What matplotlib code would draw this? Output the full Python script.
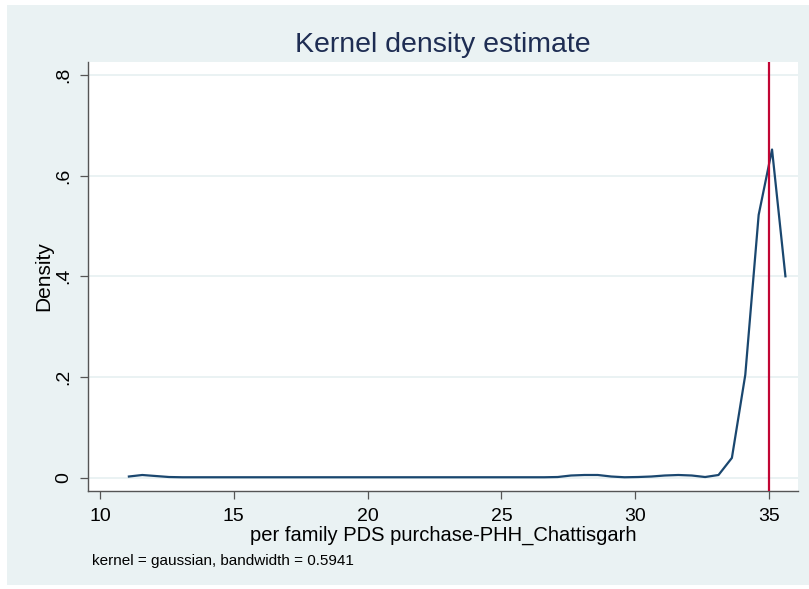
import matplotlib
matplotlib.use("Agg")
import matplotlib.pyplot as plt
from matplotlib.patches import Rectangle

plt.rcParams['font.family'] = ['Liberation Sans', 'DejaVu Sans']

# kernel density estimate (50 evaluation points)
grid_x = [11.08, 11.58, 12.08, 12.58, 13.08, 13.58, 14.08, 14.58, 15.08, 15.59,
          16.09, 16.59, 17.09, 17.59, 18.09, 18.59, 19.09, 19.59, 20.09, 20.59,
          21.09, 21.59, 22.09, 22.59, 23.09, 23.60, 24.10, 24.60, 25.10, 25.60,
          26.10, 26.60, 27.10, 27.60, 28.10, 28.60, 29.10, 29.60, 30.10, 30.60,
          31.10, 31.61, 32.11, 32.61, 33.11, 33.61, 34.11, 34.61, 35.11, 35.61]
density = [0.002, 0.005, 0.003, 0.001, 0.0005, 0.0005, 0.0005, 0.0005, 0.0005, 0.0005,
           0.0005, 0.0005, 0.0005, 0.0005, 0.0005, 0.0005, 0.0005, 0.0005, 0.0005, 0.0005,
           0.0005, 0.0005, 0.0005, 0.0005, 0.0005, 0.0005, 0.0005, 0.0005, 0.0005, 0.0005,
           0.0005, 0.0005, 0.001, 0.004, 0.005, 0.005, 0.002, 0.0005, 0.001, 0.002,
           0.004, 0.005, 0.004, 0.001, 0.005, 0.039, 0.204, 0.522, 0.652, 0.400]
ref_line = 35

x_ticks = [10, 15, 20, 25, 30, 35]
y_ticks = [0, 0.2, 0.4, 0.6, 0.8]
y_tick_labels = ["0", ".2", ".4", ".6", ".8"]

bg = "#EAF2F3"
navy = "#1A476F"
red = "#C10534"

fig = plt.figure(figsize=(8.09, 5.89), dpi=100)
fig.patch.set_facecolor("white")
fig.patches.append(Rectangle((7 / 809, 4 / 589), 1, 580 / 589,
                             transform=fig.transFigure, facecolor=bg,
                             edgecolor="none", zorder=-10))

ax = fig.add_axes([88 / 809, 1 - 491 / 589, 710 / 809, 429 / 589])
ax.set_zorder(2)
ax.set_facecolor("white")

ax.plot(grid_x, density, color=navy, lw=1.6, zorder=3)
ax.axvline(ref_line, color=red, lw=1.6, zorder=4)

ax.set_xlim(9.552, 36.08)
ax.set_ylim(-0.0268, 0.826)
ax.set_xticks(x_ticks)
ax.set_yticks(y_ticks)
ax.set_yticklabels(y_tick_labels, rotation=90, va="center")
ax.yaxis.grid(True, color=bg, lw=1.4, zorder=1)
ax.set_axisbelow(True)

for s in ["top", "right"]:
    ax.spines[s].set_visible(False)
for s in ["left", "bottom"]:
    ax.spines[s].set_color("#555555")
    ax.spines[s].set_linewidth(1.0)

ax.tick_params(axis="both", direction="out", length=6, width=0.9,
               color="#555555", labelsize=14, labelcolor="black")
ax.tick_params(axis="x", pad=6)
ax.tick_params(axis="y", pad=5)

ax.set_xlabel("per family PDS purchase-PHH_Chattisgarh", fontsize=14.5, labelpad=1)
ax.set_ylabel("Density", fontsize=15, labelpad=2)
ax.set_title("Kernel density estimate", fontsize=20.5, color="#1E2D53", pad=7)

fig.text(92 / 809, 1 - 561 / 589, "kernel = gaussian, bandwidth = 0.5941",
         fontsize=11, va="center", ha="left")

fig.savefig("out.png", dpi=100, facecolor=fig.get_facecolor())
